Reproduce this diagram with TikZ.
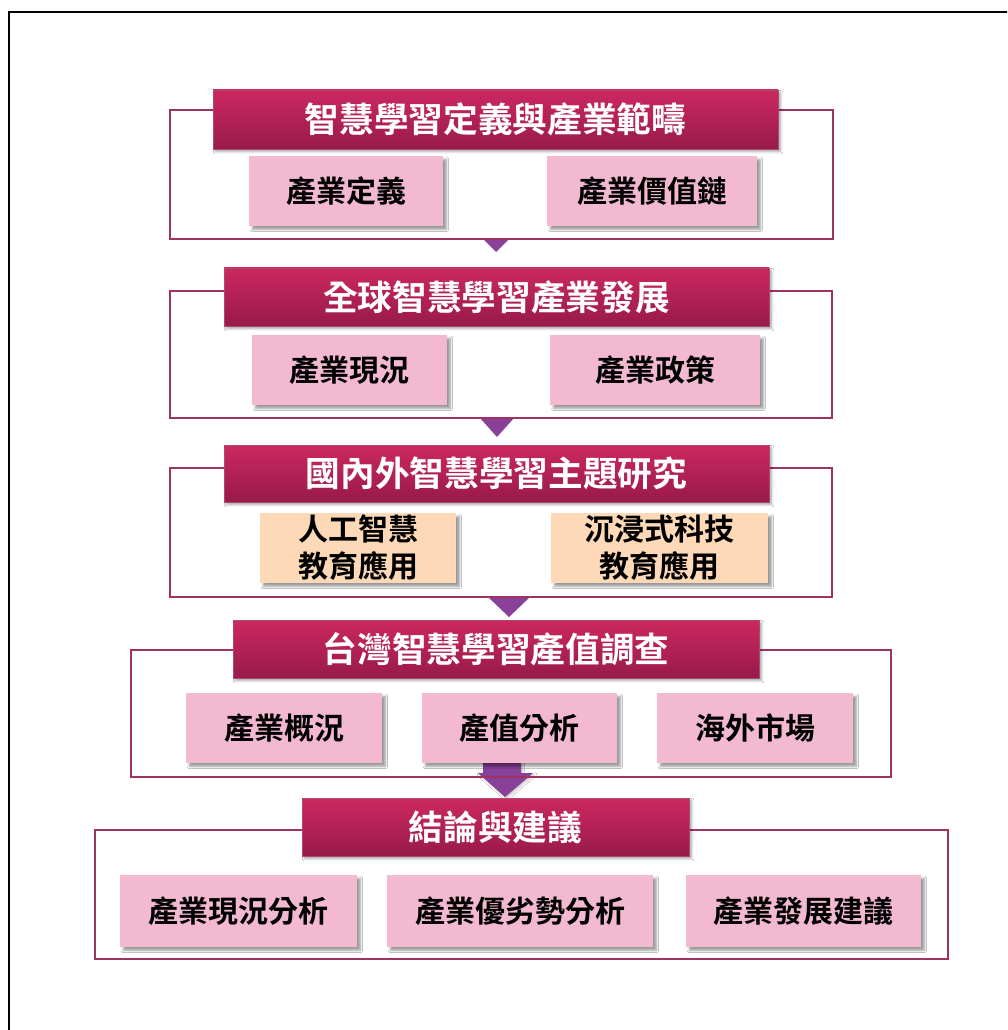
\documentclass[tikz,border=0pt]{standalone}
\usepackage{fontspec}
\newfontfamily\cjk{Noto Sans CJK TC}[BoldFont={Noto Sans CJK TC Bold}]
\usetikzlibrary{fit,shadows.blur}
\definecolor{hdtop}{RGB}{204,40,96}
\definecolor{hdbot}{RGB}{152,26,74}
\definecolor{framec}{RGB}{160,50,95}
\definecolor{subpink}{RGB}{242,185,208}
\definecolor{subpeach}{RGB}{253,217,183}
\definecolor{arrowc}{RGB}{136,64,152}
\tikzset{
  frame/.style={draw=framec,line width=1.6pt,inner sep=0pt,fill=white},
  header/.style={inner sep=0pt,top color=hdtop,bottom color=hdbot,draw=hdbot!80,line width=0.4pt,
     blur shadow={shadow xshift=2pt,shadow yshift=-2pt,shadow opacity=35,shadow blur steps=4},
     text=white,font=\cjk\bfseries\fontsize{26}{30}\selectfont},
  subbox/.style={inner sep=0pt,fill=subpink,
     blur shadow={shadow xshift=2.5pt,shadow yshift=-2.5pt,shadow opacity=40,shadow blur steps=4},
     text=black,align=center,font=\cjk\bfseries\fontsize{22.5}{28}\selectfont},
  peach/.style={subbox,fill=subpeach},
  tri/.style={fill=arrowc,draw=none},
}
\begin{document}
\begin{tikzpicture}[x=0.75pt,y=-0.75pt]
\clip (0,0) rectangle (1007,1030);
\fill[white] (0,0) rectangle (1007,1030);
\draw[line width=2pt,black] (9,1060) |- (1040,12);

% arrows (behind frames)
\coordinate (t1) at (496,252);
\fill[tri] (482,238) -- (510,238) -- (t1) -- cycle;
\coordinate (t2) at (497,437);
\fill[tri] (480,418) -- (514,418) -- (t2) -- cycle;
\coordinate (t3) at (509,617);
\fill[tri] (488,597) -- (530,597) -- (t3) -- cycle;
\coordinate (t4) at (505,797);
\fill[tri,blur shadow={shadow xshift=1pt,shadow yshift=-1pt,shadow opacity=25}]
  (483,763) -- (521,763) -- (521,773) -- (533,773) -- (t4) -- (478,773) -- (483,773) -- cycle;

% section 1
\node[frame,fit={(170,110) (833,239)}] (f1) {};
\node[header,fit={(213,90) (778,149)}] (h1) {};
\node at (h1.center) [text=white,font=\cjk\bfseries\fontsize{26}{30}\selectfont] (h1t) {智慧學習定義與產業範疇};
\node[subbox,fit={(249,156) (443,226)}] (s11) {};
\node at (s11.center) [font=\cjk\bfseries\fontsize{22.5}{28}\selectfont] {產業定義};
\node[subbox,fit={(547,156) (757,226)}] (s12) {};
\node at (s12.center) [font=\cjk\bfseries\fontsize{22.5}{28}\selectfont] {產業價值鏈};

% section 2
\node[frame,fit={(170,291) (832,418)}] (f2) {};
\node[header,fit={(224,268) (769,326)}] (h2) {};
\node at (h2.center) [text=white,font=\cjk\bfseries\fontsize{26}{30}\selectfont] {全球智慧學習產業發展};
\node[subbox,fit={(252,335) (447,405)}] (s21) {};
\node at (s21.center) [font=\cjk\bfseries\fontsize{22.5}{28}\selectfont] {產業現況};
\node[subbox,fit={(550,335) (760,405)}] (s22) {};
\node at (s22.center) [font=\cjk\bfseries\fontsize{22.5}{28}\selectfont] {產業政策};

% section 3
\node[frame,fit={(170,468) (832,597)}] (f3) {};
\node[header,fit={(224,445) (769,502)}] (h3) {};
\node at (h3.center) [text=white,font=\cjk\bfseries\fontsize{26}{30}\selectfont] {國內外智慧學習主題研究};
\node[peach,fit={(260,513) (456,583)}] (s31) {};
\node at (s31.center) [align=center,font=\cjk\bfseries\fontsize{22.5}{28}\selectfont] {人工智慧\\教育應用};
\node[peach,fit={(551,513) (768,583)}] (s32) {};
\node at (s32.center) [align=center,font=\cjk\bfseries\fontsize{22.5}{28}\selectfont] {沉浸式科技\\教育應用};

% section 4
\node[frame,fill=none,fit={(131,650) (891,777)}] (f4) {};
\node[header,fit={(233,620) (759,678)}] (h4) {};
\node at (h4.center) [text=white,font=\cjk\bfseries\fontsize{26}{30}\selectfont] {台灣智慧學習產值調查};
\node[subbox,fit={(186,693) (382,763)}] (s41) {};
\node at (s41.center) [font=\cjk\bfseries\fontsize{22.5}{28}\selectfont] {產業概況};
\node[subbox,fit={(422,693) (617,763)}] (s42) {};
\node at (s42.center) [font=\cjk\bfseries\fontsize{22.5}{28}\selectfont] {產值分析};
\node[subbox,fit={(657,693) (853,763)}] (s43) {};
\node at (s43.center) [font=\cjk\bfseries\fontsize{22.5}{28}\selectfont] {海外市場};

% section 5
\node[frame,fit={(95,830) (948,959)}] (f5) {};
\node[header,fit={(302,798) (689,856)}] (h5) {};
\node at (h5.center) [text=white,font=\cjk\bfseries\fontsize{26}{30}\selectfont] {結論與建議};
\node[subbox,fit={(120,875) (357,947)}] (s51) {};
\node at (s51.center) [font=\cjk\bfseries\fontsize{22.5}{28}\selectfont] {產業現況分析};
\node[subbox,fit={(387,875) (653,947)}] (s52) {};
\node at (s52.center) [font=\cjk\bfseries\fontsize{22.5}{28}\selectfont] {產業優劣勢分析};
\node[subbox,fit={(686,875) (921,947)}] (s53) {};
\node at (s53.center) [font=\cjk\bfseries\fontsize{22.5}{28}\selectfont] {產業發展建議};
\end{tikzpicture}
\end{document}
